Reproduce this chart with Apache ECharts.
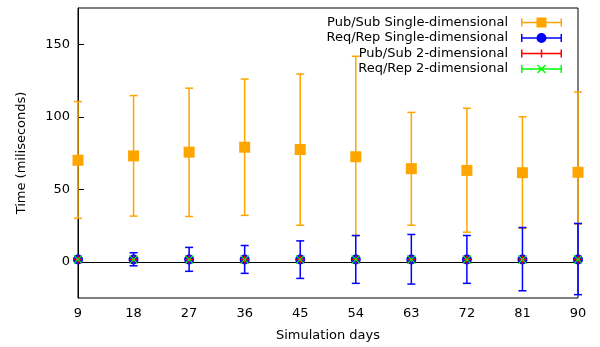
<!DOCTYPE html>
<html>
<head>
    <meta charset="UTF-8">
    <title>Time vs simulation days</title>
    <script src="https://cdn.jsdelivr.net/npm/echarts@6/dist/echarts.min.js"></script>
    <style>
        html, body { margin: 0; padding: 0; background: #fff; }
        #chart { width: 600px; height: 347px; }
    </style>
</head>
<body>
<div id="chart"></div>
<script>
    // x values (simulation days)
    var days = [9, 18, 27, 36, 45, 54, 63, 72, 81, 90];

    // Pub/Sub Single-dimensional
    var psSingleMean = [70, 73, 75.6, 79, 77.4, 72.4, 64.2, 63, 61.4, 61.7];
    var psSingleLow  = [30, 31.5, 31.2, 32, 25.2, 18, 25.2, 20.4, 23, 26];
    var psSingleHigh = [110.5, 114.6, 119.7, 126, 129.5, 141.7, 103, 105.9, 100, 117];

    // Req/Rep Single-dimensional
    var rrSingleMean = [1.5, 1.5, 1.5, 1.5, 1.5, 1.5, 1.5, 1.5, 1.5, 1.5];
    var rrSingleLow  = [0, -2.8, -6.6, -8, -11.5, -14.9, -15.4, -14.9, -20, -22.7];
    var rrSingleHigh = [3, 6.2, 9.9, 11.2, 14.4, 18.1, 18.8, 18.1, 23.6, 26.4];

    // Pub/Sub 2-dimensional
    var ps2dMean = [1.5, 1.5, 1.5, 1.5, 1.5, 1.5, 1.5, 1.5, 1.5, 1.5];
    var ps2dLow  = [0.5, 0.5, 0.5, 0.5, 0.5, 0.5, 0.5, 0.5, 0.5, 0.5];
    var ps2dHigh = [2.5, 2.5, 2.5, 2.5, 2.5, 2.5, 2.5, 2.5, 2.5, 2.5];

    // Req/Rep 2-dimensional
    var rr2dMean = [1.5, 1.5, 1.5, 1.5, 1.5, 1.5, 1.5, 1.5, 1.5, 1.5];
    var rr2dLow  = [0.5, 0.5, 0.5, 0.5, 0.5, 0.5, 0.5, 0.5, 0.5, 0.5];
    var rr2dHigh = [2.5, 2.5, 2.5, 2.5, 2.5, 2.5, 2.5, 2.5, 2.5, 2.5];

    var yTicks = [0, 50, 100, 150];

    var FONT = 'DejaVu Sans';

    // legend icons: error bar sample with the point symbol in the middle
    var barPath = 'M0 5.75 H41 V7.25 H0 Z M0 2.5 H1.5 V10.5 H0 Z M39.5 2.5 H41 V10.5 H39.5 Z ';
    var icons = {
        square: 'path://' + barPath + 'M15.5 1.5 H25.5 V11.5 H15.5 Z',
        circle: 'path://' + barPath + 'M15.5 6.5 A5 5 0 1 1 25.5 6.5 A5 5 0 1 1 15.5 6.5 Z',
        plus: 'path://' + barPath + 'M19.75 2.5 H21.25 V10.5 H19.75 Z',
        cross: 'path://' + barPath +
            'M17 2 L25 10 L24 11 L16 3 Z ' +
            'M16 10 L24 2 L25 3 L17 11 Z'
    };

    function pairs(ys) {
        return days.map(function (d, i) { return [d, ys[i]]; });
    }

    function errorSeries(name, lows, highs, color) {
        return {
            name: name + ' (err)',
            type: 'custom',
            silent: true,
            encode: { x: 0, y: [1, 2] },
            data: days.map(function (d, i) { return [d, lows[i], highs[i]]; }),
            renderItem: function (params, api) {
                var x = api.value(0);
                var lo = api.coord([x, api.value(1)]);
                var hi = api.coord([x, api.value(2)]);
                var hw = 4;
                var style = { stroke: color, lineWidth: 1.5, fill: null };
                return {
                    type: 'group',
                    children: [
                        { type: 'line', shape: { x1: lo[0], y1: lo[1], x2: hi[0], y2: hi[1] }, style: style },
                        { type: 'line', shape: { x1: hi[0] - hw, y1: hi[1], x2: hi[0] + hw, y2: hi[1] }, style: style },
                        { type: 'line', shape: { x1: lo[0] - hw, y1: lo[1], x2: lo[0] + hw, y2: lo[1] }, style: style }
                    ]
                };
            }
        };
    }

    function pointSeries(name, means, color, symbol, size) {
        return {
            name: name,
            type: 'scatter',
            symbol: symbol,
            symbolSize: size,
            clip: false,
            itemStyle: { color: color, opacity: 1 },
            data: pairs(means)
        };
    }

    var crossSymbol = 'path://M0.7 0 L8 7.3 L7.3 8 L0 0.7 Z M0 7.3 L7.3 0 L8 0.7 L0.7 8 Z';
    var plusSymbol = 'path://M3.25 0 H4.75 V8 H3.25 Z M0 3.25 H8 V4.75 H0 Z';

    var names = ['Pub/Sub Single-dimensional', 'Req/Rep Single-dimensional',
                 'Pub/Sub 2-dimensional', 'Req/Rep 2-dimensional'];

    var chart = echarts.init(document.getElementById('chart'), null, { renderer: 'canvas' });

    var option = {
        animation: false,
        textStyle: { fontFamily: FONT },
        grid: {
            left: 78, right: 22, top: 8, bottom: 48,
            show: true, borderColor: '#000', borderWidth: 1, backgroundColor: 'transparent'
        },
        legend: {
            orient: 'vertical',
            right: 38,
            top: 16,
            padding: 0,
            align: 'right',
            itemWidth: 41,
            itemHeight: 13,
            itemGap: 2.5,
            selectedMode: false,
            textStyle: { fontFamily: FONT, fontSize: 13, color: '#000', padding: [0, 8, 0, 0] },
            data: [
                { name: names[0], icon: icons.square },
                { name: names[1], icon: icons.circle },
                { name: names[2], icon: icons.plus },
                { name: names[3], icon: icons.cross }
            ]
        },
        xAxis: {
            type: 'value',
            min: 9, max: 90, interval: 9,
            name: 'Simulation days',
            nameLocation: 'middle',
            nameGap: 31,
            nameTextStyle: { fontFamily: FONT, fontSize: 13, color: '#000' },
            axisLine: { lineStyle: { color: '#000', width: 1 } },
            axisTick: { inside: true, length: 6, lineStyle: { color: '#000' } },
            axisLabel: { fontFamily: FONT, fontSize: 13, color: '#000', margin: 9 },
            splitLine: { show: false }
        },
        yAxis: {
            type: 'value',
            min: -25, max: 175,
            name: 'Time (miliseconds)',
            nameLocation: 'middle',
            nameGap: 50,
            nameTextStyle: { fontFamily: FONT, fontSize: 13, color: '#000' },
            axisLine: { show: true, lineStyle: { color: '#000', width: 1 } },
            axisTick: { show: true, inside: true, length: 6, customValues: yTicks, lineStyle: { color: '#000' } },
            axisLabel: { fontFamily: FONT, fontSize: 13, color: '#000', margin: 8, customValues: yTicks },
            splitLine: { show: false }
        },
        series: [
            errorSeries(names[0], psSingleLow, psSingleHigh, '#FFA500'),
            pointSeries(names[0], psSingleMean, '#FFA500', 'rect', 11),
            errorSeries(names[1], rrSingleLow, rrSingleHigh, '#0000FF'),
            pointSeries(names[1], rrSingleMean, '#0000FF', 'circle', 10),
            errorSeries(names[2], ps2dLow, ps2dHigh, '#FF0000'),
            pointSeries(names[2], ps2dMean, '#FF0000', plusSymbol, 8),
            errorSeries(names[3], rr2dLow, rr2dHigh, '#00FF00'),
            pointSeries(names[3], rr2dMean, '#00FF00', crossSymbol, 9)
        ]
    };

    chart.setOption(option);
</script>
</body>
</html>
